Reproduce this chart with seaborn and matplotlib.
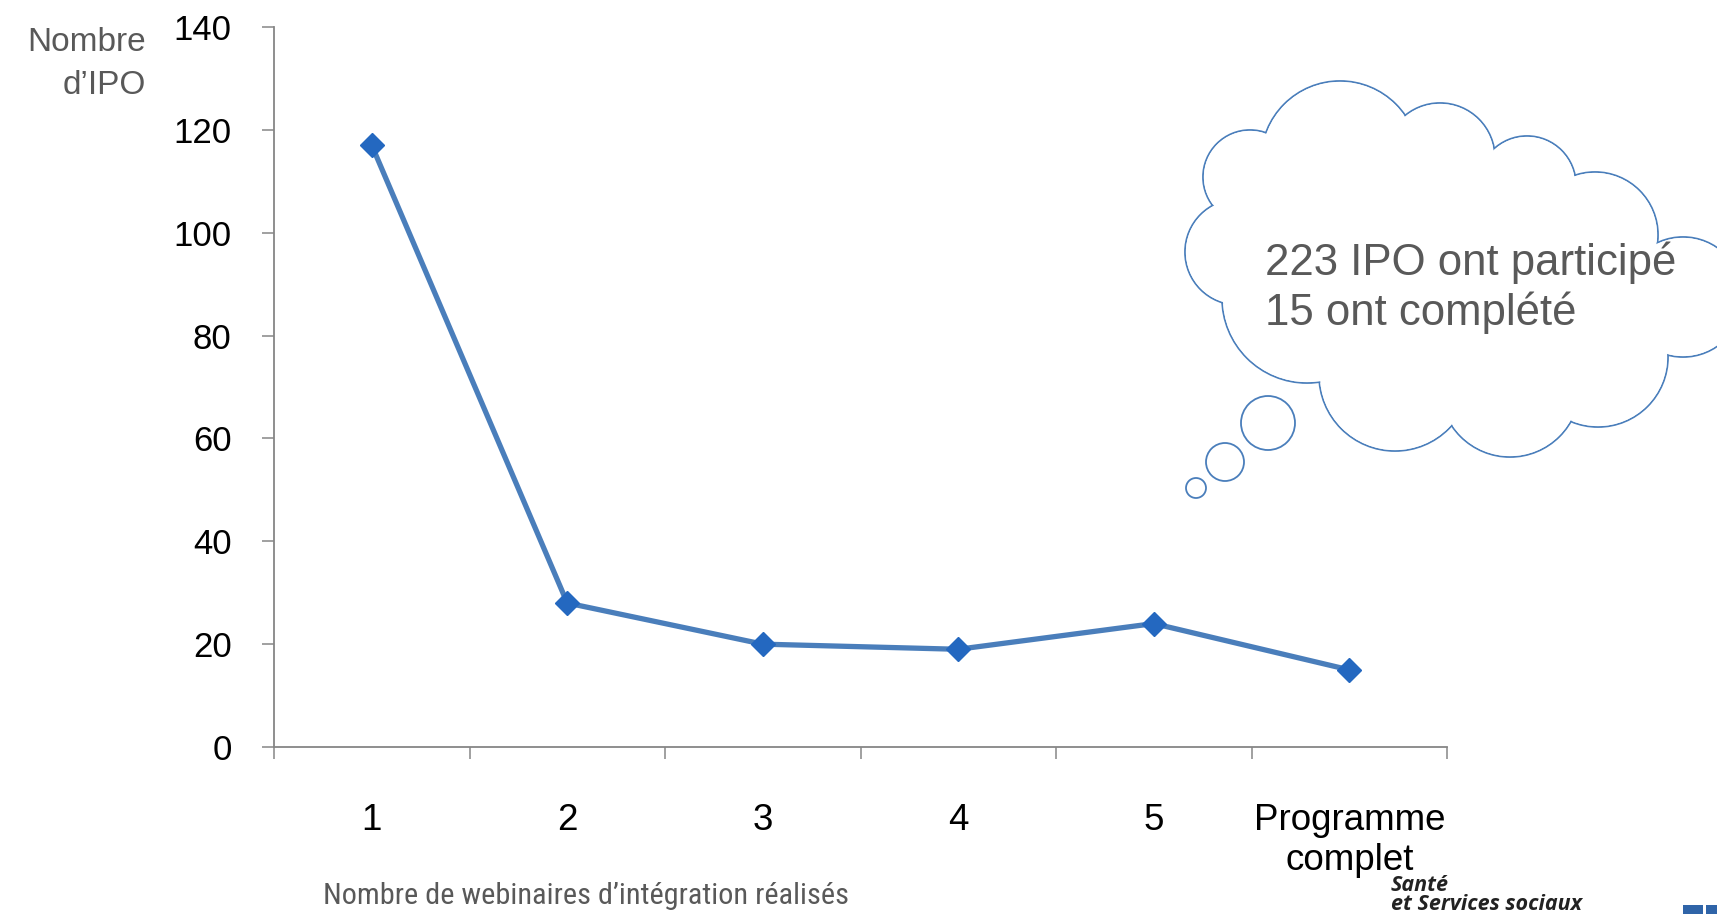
import matplotlib
matplotlib.use("Agg")
import matplotlib.pyplot as plt
import seaborn as sns
import pandas as pd
from matplotlib.patches import Circle, Polygon, Rectangle
from matplotlib.ticker import FixedLocator, FixedFormatter, NullFormatter
from matplotlib import font_manager as fm

# ---- data ----
categories = ["1", "2", "3", "4", "5", "Programme\ncomplet"]
nombre_ipo = [117, 28, 20, 19, 24, 15]
y_ticks = [0, 20, 40, 60, 80, 100, 120, 140]
y_label_lines = ["Nombre", "d\u2019IPO"]
x_title = "Nombre de webinaires d\u2019int\u00e9gration r\u00e9alis\u00e9s"
cloud_lines = ["223 IPO ont particip\u00e9", "15 ont compl\u00e9t\u00e9"]
logo_lines = ["Sant\u00e9", "et Services sociaux"]

sns.set_theme(style="white")
plt.rcParams["font.family"] = ["Liberation Sans", "DejaVu Sans"]


def has_font(name):
    try:
        fm.findfont(fm.FontProperties(family=name), fallback_to_default=False)
        return True
    except Exception:
        return False


narrow = None
for cand in ["Liberation Sans Narrow", "Arial Narrow", "Roboto Condensed",
             "Open Sans Condensed", "DejaVu Sans Condensed"]:
    if has_font(cand):
        narrow = cand
        break

W, H = 1717, 914
fig = plt.figure(figsize=(W / 100, H / 100), dpi=100)
fig.patch.set_facecolor("white")

L, R, T, B = 274, 1447, 27, 747
ax = fig.add_axes([L / W, 1 - B / H, (R - L) / W, (B - T) / H])

df = pd.DataFrame({"cat": categories, "n": nombre_ipo})
sns.lineplot(data=df, x="cat", y="n", sort=False, ax=ax,
             color="#4a7ebb", linewidth=3.8, marker="D", markersize=12,
             markerfacecolor="#2468c0", markeredgecolor="#2468c0",
             markeredgewidth=1)

gray = "#868686"
ax.set_xlim(-0.5, 5.5)
ax.set_ylim(0, 140)
ax.set_yticks(y_ticks)
ax.set_xlabel("")
ax.set_ylabel("")
ax.xaxis.set_major_locator(FixedLocator([i - 0.5 for i in range(len(categories) + 1)]))
ax.xaxis.set_major_formatter(NullFormatter())
ax.xaxis.set_minor_locator(FixedLocator(list(range(len(categories)))))
ax.xaxis.set_minor_formatter(FixedFormatter(categories))

sns.despine(ax=ax)
for s in ("left", "bottom"):
    ax.spines[s].set_color(gray)
    ax.spines[s].set_linewidth(1.3)

ax.tick_params(axis="x", which="major", direction="out", length=8.6, width=1.1,
               color=gray, bottom=True)
ax.tick_params(axis="x", which="minor", length=0, pad=40, labelsize=26.5,
               labelcolor="black", bottom=True)
ax.tick_params(axis="y", direction="out", length=8.6, width=1.1, color=gray,
               labelsize=25, labelcolor="black", pad=22, left=True)

# ---- overlay in pixel coordinates ----
ov = fig.add_axes([0, 0, 1, 1], zorder=5)
ov.set_xlim(0, W)
ov.set_ylim(H, 0)
ov.axis("off")
ov.patch.set_alpha(0)

txt_gray = "#595959"
ov.text(146, 51, y_label_lines[0], ha="right", va="baseline", fontsize=24, color=txt_gray)
ov.text(146, 94, y_label_lines[1], ha="right", va="baseline", fontsize=24, color=txt_gray)

title_family = [narrow, "Liberation Sans"] if narrow else ["Liberation Sans"]
t_title = ov.text(586, 904, x_title, ha="center", va="baseline", fontsize=25,
                  color=txt_gray, family=title_family)

# thought cloud
cloud_blue = "#4a7ebb"
lobes = [(1250, 177, 47), (1340, 160, 79), (1440, 158, 55), (1527, 185, 49),
         (1595, 235, 63), (1683, 297, 60), (1598, 357, 70), (1510, 387, 70),
         (1395, 375, 76), (1307, 298, 85), (1238, 252, 53)]
for (cx, cy, r) in lobes:
    ov.add_patch(Circle((cx, cy), r, facecolor="white", edgecolor=cloud_blue,
                        linewidth=1.3, zorder=2))
for (cx, cy, r) in lobes:
    ov.add_patch(Circle((cx, cy), r - 0.9, facecolor="white", edgecolor="none", zorder=3))
ov.add_patch(Polygon([(cx, cy) for cx, cy, r in lobes], closed=True,
                     facecolor="white", edgecolor="none", zorder=3))
for (cx, cy, r) in [(1268, 423, 27), (1225, 462, 19), (1196, 488, 10)]:
    ov.add_patch(Circle((cx, cy), r, facecolor="white", edgecolor=cloud_blue,
                        linewidth=1.3, zorder=2))

ov.text(1265, 275, cloud_lines[0], ha="left", va="baseline", fontsize=31.5,
        color=txt_gray, zorder=10)
ov.text(1265, 325, cloud_lines[1], ha="left", va="baseline", fontsize=31.5,
        color=txt_gray, zorder=10)

# logo
ov.text(1391, 891, logo_lines[0], ha="left", va="baseline", fontsize=15.5,
        fontweight="bold", style="italic", color="#222222",
        family=["Open Sans", "DejaVu Sans"], zorder=10)
ov.text(1391, 910, logo_lines[1], ha="left", va="baseline", fontsize=15.5,
        fontweight="bold", style="italic", color="#222222",
        family=["Open Sans", "DejaVu Sans"], zorder=10)
ov.add_patch(Rectangle((1683, 905), 20, 9, facecolor="#2f64a8", edgecolor="none"))
ov.add_patch(Rectangle((1706, 905), 11, 9, facecolor="#2f64a8", edgecolor="none"))

# fit the x title to about the width it has in the reference
fig.canvas.draw()
bb = t_title.get_window_extent()
if bb.width > 0:
    t_title.set_fontsize(25 * 525.0 / bb.width)

fig.savefig("out.png", dpi=100, facecolor="white")
